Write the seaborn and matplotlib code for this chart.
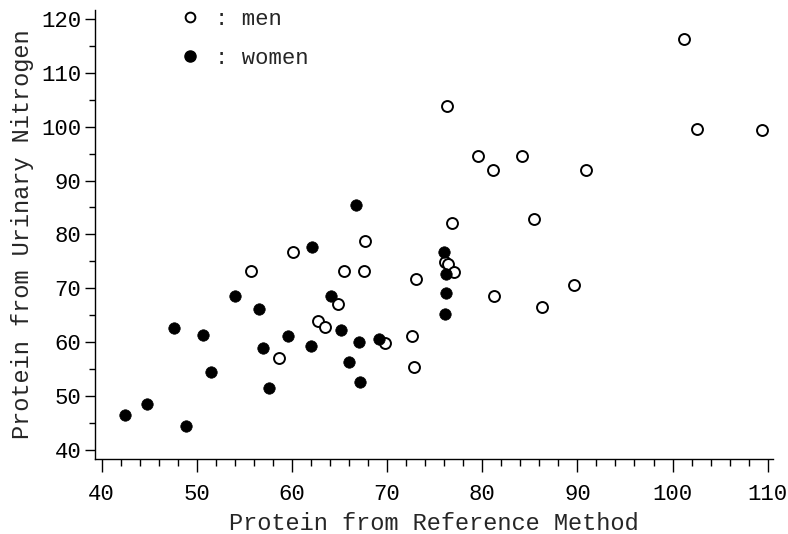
import matplotlib
matplotlib.use("Agg")
import matplotlib.pyplot as plt
from matplotlib.lines import Line2D
from matplotlib.ticker import MultipleLocator
import seaborn as sns
import pandas as pd

# values
men_ref = [55.7, 60.1, 67.7, 65.5, 67.6, 64.8, 62.7, 63.5, 58.6, 69.8,
           72.6, 72.8, 73.0, 76.8, 76.1, 76.4, 77.0, 76.3, 79.5, 81.1,
           84.2, 90.9, 85.4, 89.6, 81.2, 86.3, 101.2, 102.6, 109.4]
men_urn = [73.3, 76.8, 78.7, 73.3, 73.3, 67.0, 63.9, 62.8, 57.1, 59.8,
           61.1, 55.4, 71.8, 82.1, 74.8, 74.5, 73.0, 103.8, 94.5, 92.0,
           94.6, 91.9, 82.9, 70.7, 68.5, 66.6, 116.2, 99.5, 99.3]

women_ref = [42.5, 44.8, 48.9, 47.6, 50.6, 51.5, 54.0, 56.5, 57.0, 57.6,
             59.6, 62.1, 62.0, 64.1, 65.2, 67.0, 66.0, 67.1, 69.1, 66.7,
             76.0, 76.2, 76.2, 76.1]
women_urn = [46.4, 48.6, 44.4, 62.7, 61.3, 54.4, 68.6, 66.1, 58.9, 51.5,
             61.1, 77.6, 59.2, 68.5, 62.2, 60.0, 56.4, 52.6, 60.5, 85.5,
             76.7, 72.6, 69.2, 65.2]

men = pd.DataFrame({"ref": men_ref, "urn": men_urn})
women = pd.DataFrame({"ref": women_ref, "urn": women_urn})

sns.set_style("ticks")
plt.rcParams["font.family"] = ["Liberation Mono", "DejaVu Sans Mono"]

fig = plt.figure(figsize=(7.88, 5.34), dpi=100)
ax = fig.add_axes([0.1206, 0.140, 0.8604, 0.8414])

sns.scatterplot(data=men, x="ref", y="urn", ax=ax, marker="o", s=62,
                facecolor="white", edgecolor="black", linewidth=1.4)
sns.scatterplot(data=women, x="ref", y="urn", ax=ax, marker="o", s=68,
                color="black", edgecolor="black", linewidth=0.5)

ax.set_xlim(39.3, 110.56)
ax.set_ylim(38.27, 121.67)
ax.xaxis.set_major_locator(MultipleLocator(10))
ax.xaxis.set_minor_locator(MultipleLocator(2))
ax.yaxis.set_major_locator(MultipleLocator(10))
ax.yaxis.set_minor_locator(MultipleLocator(5))

sns.despine(ax=ax)
for side in ["left", "bottom"]:
    ax.spines[side].set_linewidth(1.0)
    ax.spines[side].set_color("black")

ax.tick_params(axis="x", which="major", length=9, width=1, pad=9,
               labelsize=16, colors="black")
ax.tick_params(axis="x", which="minor", length=5, width=1, colors="black")
ax.tick_params(axis="y", which="major", length=7, width=1, pad=3,
               labelsize=16, colors="black")
ax.tick_params(axis="y", which="minor", length=4, width=1, colors="black")

ax.set_xlabel("Protein from Reference Method", fontsize=17, labelpad=5)
ax.set_ylabel("Protein from Urinary Nitrogen", fontsize=17, labelpad=5)

handles = [
    Line2D([], [], linestyle="none", marker="o", markersize=7,
           markerfacecolor="white", markeredgecolor="black", markeredgewidth=1.4),
    Line2D([], [], linestyle="none", marker="o", markersize=8,
           markerfacecolor="black", markeredgecolor="black"),
]
ax.legend(handles, [": men", ": women"], loc="upper left",
          bbox_to_anchor=(0.124, 1.002), frameon=False, fontsize=16,
          handlelength=1.0, handletextpad=0.6, borderpad=0,
          borderaxespad=0, labelspacing=0.8)

fig.savefig("out.png", dpi=100)
